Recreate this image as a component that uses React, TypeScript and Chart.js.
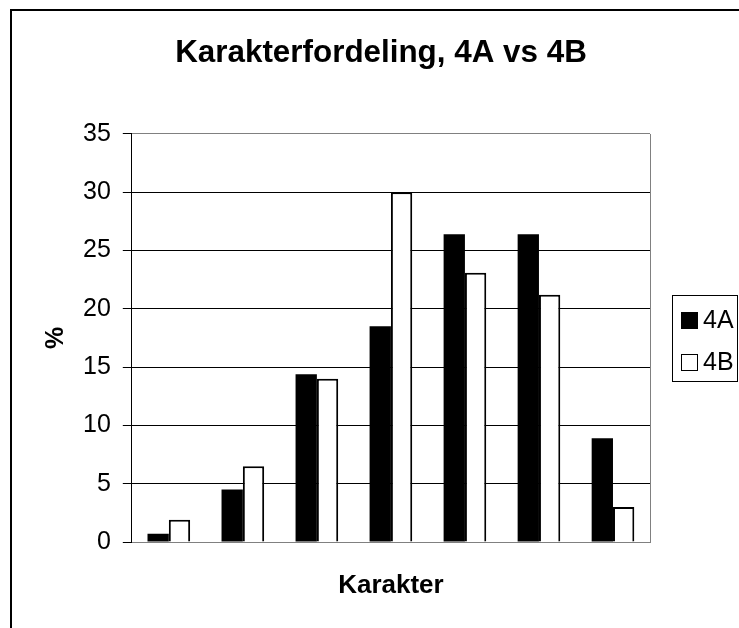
import React, { useEffect, useRef } from "react";
import { Chart, registerables } from "chart.js";

Chart.register(...registerables);

// ---- data ----
const categories = ["-3", "00", "02", "4", "7", "10", "12"];
const series4A = [0.7, 4.5, 14.4, 18.5, 26.4, 26.4, 8.9];
const series4B = [1.9, 6.5, 14.0, 30.0, 23.1, 21.2, 3.0];
const seriesLabels = ["4A", "4B"];
const yTicks = [0, 5, 10, 15, 20, 25, 30, 35];
const titleText = "Karakterfordeling, 4A vs 4B";
const xTitle = "Karakter";
const yTitle = "%";

const FONT = "'Liberation Sans', Arial, Helvetica, sans-serif";
const GRAY = "#808080";

const framePlugin = {
  id: "plotFrame",
  beforeDatasetsDraw(chart: any) {
    const { ctx, chartArea } = chart;
    ctx.save();
    ctx.strokeStyle = GRAY;
    ctx.lineWidth = 1;
    const x = Math.round(chartArea.right) + 0.5;
    ctx.beginPath();
    ctx.moveTo(x, chartArea.top);
    ctx.lineTo(x, chartArea.bottom);
    ctx.stroke();
    ctx.restore();
  },
};

const boxLegendPlugin = {
  id: "boxLegend",
  afterDraw(chart: any) {
    const { ctx, chartArea } = chart;
    const w = 65;
    const h = 86;
    const x0 = Math.round(chartArea.right + 22);
    const y0 = Math.round((chartArea.top + chartArea.bottom) / 2 - h / 2);
    ctx.save();
    ctx.strokeStyle = "#000";
    ctx.lineWidth = 1;
    ctx.strokeRect(x0 + 0.5, y0 + 0.5, w, h);
    ctx.font = `25px ${FONT}`;
    ctx.textBaseline = "middle";
    ctx.textAlign = "left";
    chart.data.datasets.forEach((ds: any, i: number) => {
      const cy = y0 + 25.5 + i * 41.5;
      const sx = x0 + 9;
      const sy = Math.round(cy - 8.5);
      ctx.fillStyle = ds.backgroundColor;
      ctx.fillRect(sx, sy, 17, 17);
      ctx.strokeStyle = "#000";
      ctx.strokeRect(sx + 0.5, sy + 0.5, 16, 16);
      ctx.fillStyle = "#000";
      ctx.fillText(ds.label, x0 + 31, cy + 1);
    });
    ctx.restore();
  },
};

export default function App() {
  const canvasRef = useRef<HTMLCanvasElement | null>(null);

  useEffect(() => {
    if (!canvasRef.current) return;
    const chart = new Chart(canvasRef.current, {
      type: "bar",
      data: {
        labels: categories,
        datasets: [
          {
            label: seriesLabels[0],
            data: series4A,
            backgroundColor: "#000000",
            borderColor: "#000000",
            borderWidth: 0,
            categoryPercentage: 0.576,
            barPercentage: 1,
          },
          {
            label: seriesLabels[1],
            data: series4B,
            backgroundColor: "#ffffff",
            borderColor: "#000000",
            borderWidth: 2,
            categoryPercentage: 0.576,
            barPercentage: 1,
          },
        ],
      },
      options: {
        responsive: false,
        animation: false,
        devicePixelRatio: 1,
        layout: { padding: { left: 10, top: 0, right: 0, bottom: 26.8 } },
        plugins: {
          legend: { display: false },
          tooltip: { enabled: false },
          title: {
            display: true,
            text: titleText,
            color: "#000",
            font: { family: FONT, size: 31.4, weight: "bold" },
            padding: { top: 34.2, bottom: 62.1 },
          },
        },
        scales: {
          x: {
            type: "category",
            grid: { display: false, drawTicks: false },
            border: { display: true, color: GRAY, width: 1 },
            ticks: { display: false },
            title: {
              display: true,
              text: xTitle,
              color: "#000",
              font: { family: FONT, size: 26, weight: "bold" },
              padding: { top: 28, bottom: 0 },
            },
          },
          y: {
            type: "linear",
            position: "left",
            min: yTicks[0],
            max: yTicks[yTicks.length - 1],
            afterBuildTicks: (scale: any) => {
              scale.ticks = yTicks.map((v) => ({ value: v }));
            },
            ticks: {
              color: "#000",
              padding: 12,
              font: { family: FONT, size: 25 },
            },
            grid: {
              color: (c: any) =>
                c.tick && (c.tick.value === yTicks[0] || c.tick.value === yTicks[yTicks.length - 1])
                  ? GRAY
                  : "#000",
              tickColor: "#000",
              tickLength: 9,
              lineWidth: 1,
            },
            border: { display: true, color: "#000", width: 1 },
            title: {
              display: true,
              text: yTitle,
              color: "#000",
              font: { family: FONT, size: 25, weight: "bold" },
              padding: { top: 31, bottom: 0 },
            },
          },
          yPad: {
            type: "linear",
            position: "right",
            display: true,
            grid: { display: false, drawTicks: false },
            border: { display: false },
            ticks: { display: false },
            afterFit: (s: any) => {
              s.width = 102;
            },
          },
        },
      } as any,
      plugins: [framePlugin, boxLegendPlugin],
    });
    return () => chart.destroy();
  }, []);

  return (
    <div
      style={{
        position: "fixed",
        left: 0,
        top: 0,
        width: 739,
        height: 628,
        overflow: "hidden",
        background: "#fff",
      }}
    >
      <div
        style={{
          position: "absolute",
          left: 10,
          top: 9,
          width: 760,
          height: 700,
          border: "2px solid #000",
          boxSizing: "border-box",
        }}
      />
      <canvas
        ref={canvasRef}
        width={752}
        height={628}
        style={{ position: "absolute", left: 0, top: 0, width: 752, height: 628 }}
      />
    </div>
  );
}
